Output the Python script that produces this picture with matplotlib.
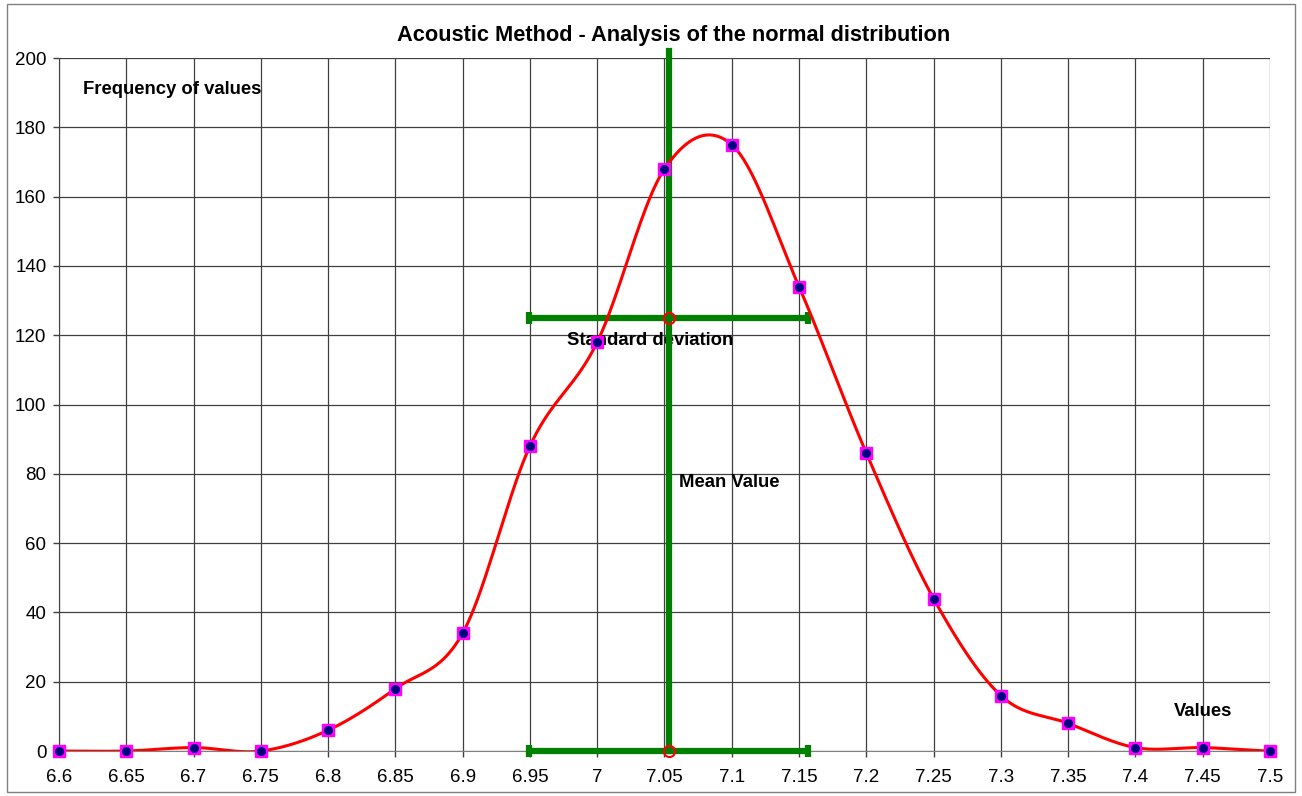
import numpy as np
import matplotlib
matplotlib.use("Agg")
import matplotlib.pyplot as plt
from matplotlib.patches import Rectangle

plt.rcParams['font.family'] = ['Liberation Sans', 'DejaVu Sans']

x_values = [6.6, 6.65, 6.7, 6.75, 6.8, 6.85, 6.9, 6.95, 7.0, 7.05, 7.1,
            7.15, 7.2, 7.25, 7.3, 7.35, 7.4, 7.45, 7.5]
frequency = [0, 0, 1, 0, 6, 18, 34, 88, 118, 168, 175, 134, 86, 44, 16, 8, 1, 1, 0]
mean_value = 7.053
std_dev = 0.1035
std_level = 125
x_ticks = [6.6, 6.65, 6.7, 6.75, 6.8, 6.85, 6.9, 6.95, 7.0, 7.05, 7.1,
           7.15, 7.2, 7.25, 7.3, 7.35, 7.4, 7.45, 7.5]
x_tick_labels = ['6.6', '6.65', '6.7', '6.75', '6.8', '6.85', '6.9', '6.95', '7', '7.05',
                 '7.1', '7.15', '7.2', '7.25', '7.3', '7.35', '7.4', '7.45', '7.5']
y_ticks = [0, 20, 40, 60, 80, 100, 120, 140, 160, 180, 200]


def catmull_rom(xs, ys, n=40):
    xs = np.asarray(xs, float)
    ys = np.asarray(ys, float)
    px = np.concatenate([[2 * xs[0] - xs[1]], xs, [2 * xs[-1] - xs[-2]]])
    py = np.concatenate([[ys[0]], ys, [ys[-1]]])
    outx, outy = [], []
    t = np.linspace(0, 1, n, endpoint=False)
    for i in range(1, len(px) - 2):
        p0, p1, p2, p3 = py[i - 1], py[i], py[i + 1], py[i + 2]
        m1 = (p2 - p0) / 2.0
        m2 = (p3 - p1) / 2.0
        h00 = 2 * t**3 - 3 * t**2 + 1
        h10 = t**3 - 2 * t**2 + t
        h01 = -2 * t**3 + 3 * t**2
        h11 = t**3 - t**2
        outy.extend(h00 * p1 + h10 * m1 + h01 * p2 + h11 * m2)
        outx.extend(px[i] + t * (px[i + 1] - px[i]))
    outx.append(xs[-1])
    outy.append(ys[-1])
    return np.array(outx), np.array(outy)


fig = plt.figure(figsize=(13.02, 7.96), dpi=100)
fig.patches.append(Rectangle((0.005, 0.005), 0.99, 0.99, transform=fig.transFigure,
                             fill=False, edgecolor='#808080', linewidth=1.0))
ax = fig.add_axes([0.0453, 0.0565, 0.9301, 0.8706])

ax.set_xlim(6.6, 7.5)
ax.set_ylim(0, 200)
ax.set_xticks(x_ticks)
ax.set_xticklabels(x_tick_labels)
ax.set_yticks(y_ticks)
ax.tick_params(axis='both', labelsize=13.5, length=4, width=1, color='#404040')
ax.tick_params(axis='x', pad=9)
ax.tick_params(axis='y', pad=5)
ax.grid(True, color='#404040', linewidth=0.9)
ax.set_axisbelow(True)
for s in ['top', 'right']:
    ax.spines[s].set_visible(False)
ax.spines['left'].set_color('#404040')
ax.spines['bottom'].set_color('#808080')

# Standard deviation and mean lines
green = '#008000'
lo, hi = mean_value - std_dev, mean_value + std_dev
for yl in [std_level, 0]:
    ax.plot([lo, hi], [yl, yl], color=green, linewidth=4.5, solid_capstyle='butt', zorder=4, clip_on=False)
    ax.plot([lo, hi], [yl, yl], linestyle='none', marker='|', markersize=9,
            markeredgewidth=4.5, color=green, zorder=4, clip_on=False)
ax.plot([mean_value, mean_value], [0, 202], color=green, linewidth=4.5, zorder=4, clip_on=False)
ax.plot([mean_value, mean_value], [std_level, 0], linestyle='none', marker='o', markersize=8,
        markerfacecolor='none', markeredgecolor='red', markeredgewidth=1.5, zorder=6, clip_on=False)

# Smoothed curve
sx, sy = catmull_rom(x_values, frequency)
ax.plot(sx, sy, color='red', linewidth=2.2, zorder=5)
ax.plot(x_values, frequency, linestyle='none', marker='s', markersize=8,
        markerfacecolor='#ff00ff', markeredgecolor='#ff00ff', zorder=6, clip_on=False)
ax.plot(x_values, frequency, linestyle='none', marker='o', markersize=5.5,
        markerfacecolor='#000080', markeredgecolor='#000080', zorder=7, clip_on=False)

fig.text(0.517, 0.955, 'Acoustic Method - Analysis of the normal distribution',
         ha='center', va='center', fontsize=15.7, fontweight='bold')
ax.text(6.6175, 191, 'Frequency of values', fontsize=13.3, fontweight='bold', va='center')
ax.text(6.9775, 118.5, 'Standard deviation', fontsize=13.3, fontweight='bold', va='center')
ax.text(7.0605, 77.5, 'Mean Value', fontsize=13.3, fontweight='bold', va='center')
ax.text(7.4285, 11.5, 'Values', fontsize=13.3, fontweight='bold', va='center')

fig.savefig('out.png', dpi=100)
